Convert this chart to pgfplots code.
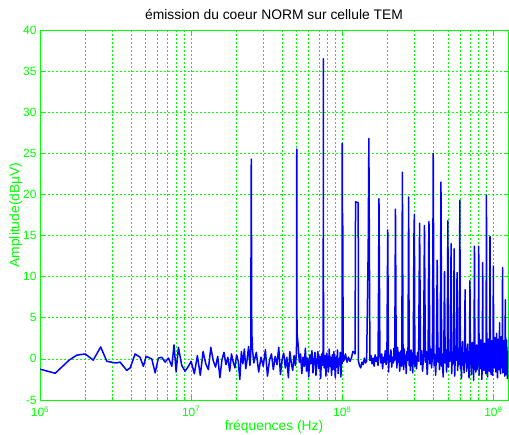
\documentclass[border=0pt]{standalone}
\usepackage{fontspec}
\setmainfont{Liberation Sans}
\usepackage{pgfplots}
\usepackage{pgfplotstable}
\pgfplotsset{compat=1.18}
\definecolor{mgreen}{RGB}{0,255,0}
\definecolor{mblue}{RGB}{0,0,255}

% spectrum, f in MHz, level in dBuV
\pgfplotstableread{
f a
1.00 -1.25
1.26 -1.75
1.56 -0.15
1.75 0.45
1.99 0.6
2.25 -0.15
2.52 1.45
2.77 -0.3
3.18 -0.5
3.39 -0.4
3.75 -1.4
3.95 -1.1
4.26 0.6
4.59 0.2
4.83 -0.9
5.04 0.3
5.49 0.0
5.78 -1.7
6.07 0.1
6.39 0.2
6.73 -0.4
7.08 0.1
7.45 -0.9
7.71 1.7
7.96 -1.6
8.24 1.4
8.67 -0.8
9.12 -1.5
9.60 -0.9
10.0 -0.3
10.5 -1.8
11.0 0.4
11.5 -2.0
12.0 0.9
12.5 -0.6
13.0 -1.3
13.5 1.4
14.0 -0.2
14.5 -1.0
15.0 0.3
15.5 -2.3
16.0 -0.1
16.5 0.8
17.0 -0.7
17.5 0.2
18.0 -1.5
18.5 0.6
19.0 -0.4
19.5 -1.1
20.0 0.5
20.5 -0.3
21.0 -2.5
21.5 0.9
22.0 -0.6
22.5 1.2
23.0 -1.2
23.5 0.0
24.0 1.5
24.5 -0.8
24.8 0.6
25.0 24.3
25.2 3.3
25.5 1.0
26 -0.5
27 0.8
28 -1.6
29 0.2
30 -0.9
31 1.1
32 -2.1
33 -0.2
34 0.6
35 -1.3
36 0.3
37 -0.7
38 1.4
39 -1.9
40 -0.1
41 0.7
42 -1.1
43 0.2
44 -2.3
45 0.9
46 -0.5
47 -1.4
48 0.4
49 -0.8
49.8 0.9
50 25.5
50.2 3.2
51 1.8
52 -0.4
53 0.6
54 -1.8
55 0.2
56 -0.9
57 1.3
58 -1.5
59 0.1
60 -2.2
61 0.5
62 -0.6
63 1.0
64 -1.7
65 -0.2
66 0.8
67 -2.0
68 -0.3
69 0.9
70 -1.2
71 0.3
72 -2.4
73 0.6
74 -0.8
74.8 1.5
75 36.5
75.2 1.0
76 -1.1
77 0.4
78 -2.1
79 0.7
80 -0.5
81 -1.6
82 1.2
83 -0.9
84 0.2
85 -2.0
86 0.5
87 -1.3
88 0.9
89 -0.4
90 -2.3
91 0.3
92 -1.0
93 1.1
94 -1.8
95 0.0
96 -0.7
97 0.8
98 -2.2
99 0.4
99.8 -0.6
100 26.2
100.3 9.4
100.7 17.7
101.5 -0.3
102.5 -0.2
105 0.6
107.5 -0.4
110 0.2
112.5 -0.3
115 0.1
117.5 0.9
120 0.8
121.5 0.6
122.0 10.0
122.5 19.1
127.5 19.0
128.0 -0.3
130 -0.8
132.5 -1.1
135 -0.4
137.5 -0.7
140 0.1
142.5 -0.5
145 -0.3
148.5 13.5
150 26.8
152.5 -0.2
155 0.4
157.5 -0.6
160 0.1
162.5 -0.9
165 0.5
167.5 -0.3
170 0.2
172.5 -0.8
174 9.8
175 19.5
177.5 0.3
180 -0.5
182.5 0.6
185 -1.2
187.5 0.2
190 -0.4
192.5 1.0
195 -0.7
197.5 0.3
200 15.7
202.5 -1.6
205 0.4
207.5 -0.3
210 1.1
212.5 -1.0
215 0.2
217.5 -0.5
220 1.3
222.5 -0.2
225 18.2
227.5 0.6
230 -1.1
232.5 1.4
235 -0.4
237.5 0.8
240 -1.5
242.5 0.2
245 1.0
247.5 -0.9
249 11.4
249.5 18.1
250 22.7
252.5 0.5
255 -1.3
257.5 1.2
260 -0.6
262.5 0.4
265 -1.8
267.5 0.9
270 -0.2
272.5 1.5
275 19.7
277.5 -0.8
280 0.3
282.5 -1.4
285 1.1
287.5 -0.5
290 0.7
292.5 -1.7
295 0.2
298 14.7
300 17.6
302.5 -0.9
305 0.4
310 -1.2
315 0.8
320 -0.3
325 16.5
330 -0.7
335 1.0
340 -1.5
345 0.2
350 16.2
355 -0.4
360 0.9
365 -1.9
370 0.1
373 13.2
375 16.7
380 -0.6
385 1.2
390 -1.1
395 0.3
398 13.3
400 25.0
405 -0.8
410 0.5
415 -2.0
420 0.7
425 12.0
430 -0.4
435 1.3
440 -1.3
445 0.1
450 21.5
455 -0.9
460 0.6
465 -2.2
470 0.9
475 10.6
480 -0.5
485 1.1
490 -1.6
495 0.3
500 16.8
505 -1.0
510 0.8
515 -0.3
520 1.4
525 14.0
530 -1.8
535 0.2
540 -0.6
545 1.0
550 13.4
555 -2.1
560 0.5
565 -0.2
570 1.2
575 10.5
580 -1.4
585 0.4
590 -0.7
595 1.5
600 19.3
605 -1.2
610 0.3
615 -2.4
620 0.9
625 2.1
630 -0.8
635 0.6
640 -1.7
645 1.3
650 8.4
655 -0.4
660 0.8
665 -1.5
670 0.2
675 1.8
680 -1.1
685 0.5
690 -2.3
695 0.7
700 9.5
705 -0.6
710 1.1
715 -1.9
720 0.3
725 2.0
730 -1.0
735 0.4
740 -2.6
745 1.2
750 13.7
755 -0.3
760 0.9
765 -1.6
770 0.1
775 1.7
780 -1.3
785 0.6
790 -0.8
795 1.4
800 13.7
805 -2.0
810 0.2
815 -0.5
820 1.0
825 2.3
830 -1.2
835 0.7
840 -2.5
845 0.4
850 11.7
855 -0.9
860 1.3
865 -1.4
870 0.5
875 1.9
880 -0.7
885 0.3
890 -1.8
895 1.1
900 19.9
905 -0.5
910 0.8
915 -2.2
920 0.1
925 2.4
930 -1.0
935 0.6
940 -1.5
945 1.6
950 14.9
955 -0.8
960 0.4
965 -1.9
970 1.0
975 2.2
980 -0.6
985 0.9
990 -2.0
995 1.3
1000 11.3
1005 -0.4
1010 1.5
1015 -1.1
1020 0.6
1025 2.6
1030 -0.9
1035 1.8
1040 -1.6
1045 0.7
1050 3.1
1055 -0.2
1060 1.2
1065 -2.3
1070 0.8
1075 2.4
1080 -0.7
1085 1.6
1090 -1.3
1095 2.0
1100 4.4
1105 -0.5
1110 1.0
1115 -1.8
1120 0.4
1125 2.7
1130 -1.1
1135 1.4
1140 -0.6
1145 0.9
1150 11.1
1155 -1.7
1160 0.3
1165 1.5
1170 -0.8
1175 2.2
1180 -1.4
1185 0.6
1190 -2.1
1195 1.0
1200 7.2
1205 -0.3
1210 1.4
1215 -1.9
1220 0.5
1225 2.3
1230 -1.2
1235 0.8
1240 -2.4
1245 0.9
1250 -0.5
}\spectrum

\begin{document}
\begin{tikzpicture}
\begin{axis}[
    name=ax,
    at={(0,0)}, anchor=south west,
    scale only axis,
    width=468bp, height=370bp,
    xmode=log,
    xmin=1e6, xmax=1.25e9,
    ymin=-5, ymax=40,
    ytick distance=5,
    xtick={1e6,1e7,1e8,1e9},
    xticklabels={10\textsuperscript{6},10\textsuperscript{7},10\textsuperscript{8},10\textsuperscript{9}},
    /pgf/number format/assume math mode=true,
    ticklabel style={font=\fontsize{12}{14}\selectfont, text=mgreen},
    xticklabel style={yshift=-3bp},
    axis line style={mgreen, line width=0.8bp},
    tick style={mgreen, line width=0.6bp},
    major tick length=4bp, minor tick length=2.5bp,
    tick align=inside,
    xmajorgrids, xminorgrids, ymajorgrids,
    major grid style={mgreen, line width=0.6bp, dash pattern=on 2bp off 2bp},
    minor grid style={mgreen, line width=0.6bp, dash pattern=on 2bp off 2bp},
    title={émission du coeur NORM sur cellule TEM},
    title style={font=\fontsize{13.9}{16}\selectfont, text=black, yshift=1bp},
    xlabel={fréquences (Hz)},
    ylabel={Amplitude(dBµV)},
    label style={font=\fontsize{13.9}{16}\selectfont, text=mgreen},
    xlabel style={yshift=3bp},
    ylabel style={yshift=-6bp},
]
\addplot[mblue, line width=1.5bp, line join=round] table[x expr=\thisrow{f}*1e6, y=a] {\spectrum};
\end{axis}
\pgfresetboundingbox
\path[use as bounding box] ([xshift=-40bp,yshift=-35bp]ax.south west) rectangle ([xshift=1bp,yshift=30bp]ax.north east);
\end{tikzpicture}
\end{document}
